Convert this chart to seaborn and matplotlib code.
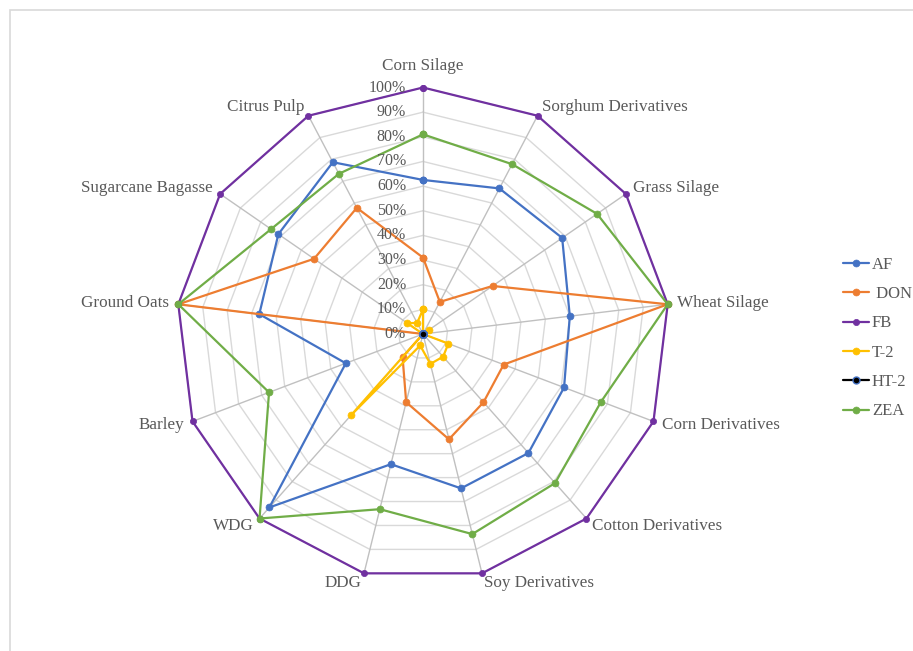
import numpy as np
import pandas as pd
import matplotlib
matplotlib.use("Agg")
import matplotlib.pyplot as plt
from matplotlib.lines import Line2D
from matplotlib.patches import Rectangle
import seaborn as sns

categories = ["Corn Silage", "Sorghum Derivatives", "Grass Silage", "Wheat Silage",
              "Corn Derivatives", "Cotton Derivatives", "Soy Derivatives", "DDG", "WDG",
              "Barley", "Ground Oats", "Sugarcane Bagasse", "Citrus Pulp"]

af = [62.5, 66.7, 68.6, 60, 61.2, 64.5, 64.5, 54.4, 94, 33.5, 66.9, 71.3, 78.7]
don = [31, 14.7, 34.3, 100, 35, 37, 44, 28.5, 12.5, 0, 100, 53.7, 57.8]
fb = [100] * 13
t2 = [10, 0, 3, 0, 11, 12.3, 12.5, 4.8, 44, 0, 0, 7.7, 5.1]
ht2 = [0] * 13
zea = [81, 77.8, 85.8, 100, 77.3, 80.8, 83.6, 73.2, 100, 66.8, 100, 74.9, 73.4]

series_names = ["AF", "DON", "FB", "T-2", "HT-2", "ZEA"]
legend_labels = ["AF", " DON", "FB", "T-2", "HT-2", "ZEA"]
series_values = [af, don, fb, t2, ht2, zea]
ticks = list(range(0, 101, 10))

colors = {"AF": "#4472C4", "DON": "#ED7D31", "FB": "#7030A0",
          "T-2": "#FFC000", "HT-2": "#000000", "ZEA": "#70AD47"}

sns.set_theme(style="white")
plt.rcParams["font.family"] = ["Liberation Serif", "DejaVu Serif"]
text_color = "#595959"

W, H = 913, 651
fig = plt.figure(figsize=(W / 100, H / 100), dpi=100)
fig.patch.set_facecolor("white")

cx, cy, R = 423, 334, 246.5
ax = fig.add_axes([(cx - R) / W, (H - cy - R) / H, 2 * R / W, 2 * R / H], projection="polar")
ax.set_theta_zero_location("N")
ax.set_theta_direction(-1)
ax.set_ylim(0, 100)
ax.grid(False)
ax.set_xticks([])
ax.set_yticks([])
ax.spines["polar"].set_visible(False)
ax.set_facecolor("none")

n = len(categories)
angles = np.arange(n) * 2 * np.pi / n
angles_closed = np.append(angles, 2 * np.pi)

# polygon gridlines and spokes
for t in ticks[1:]:
    ax.plot(angles_closed, [t] * (n + 1), color="#d9d9d9", lw=1, zorder=1)
for a in angles:
    ax.plot([a, a], [0, 100], color="#c0c0c0", lw=1, zorder=1)

rows = []
for name, vals in zip(series_names, series_values):
    for i, th in enumerate(angles_closed):
        rows.append({"series": name, "theta": th, "value": vals[i % n], "order": i})
df = pd.DataFrame(rows)

handles = []
for name, lab in zip(series_names, legend_labels):
    sub = df[df["series"] == name]
    c = colors[name]
    ms = 5 if name != "FB" else 4.5
    mec = "#4472C4" if name == "HT-2" else c
    sns.lineplot(data=sub, x="theta", y="value", sort=False, estimator=None, ax=ax,
                 color=c, lw=1.6, marker="o", markersize=ms, markeredgecolor=mec,
                 markerfacecolor=c, markeredgewidth=1 if name == "HT-2" else 0.5,
                 legend=False, zorder=3)
    handles.append(Line2D([0], [0], color=c, lw=1.6, marker="o", markersize=ms,
                          markerfacecolor=c, markeredgecolor=mec,
                          markeredgewidth=1 if name == "HT-2" else 0.5, label=lab))
for ln in ax.lines:
    ln.set_clip_on(False)
ax.set_xlabel("")
ax.set_ylabel("")

# radial tick labels
for t in ticks:
    ax.annotate(f"{t}%", xy=(0, t), xytext=(-17, 0), textcoords="offset pixels",
                ha="right", va="center", fontsize=11.5, color=text_color, zorder=4)

# category labels
for a, lab in zip(angles, categories):
    s, c = np.sin(a), np.cos(a)
    if abs(s) < 0.05:
        ax.annotate(lab, xy=(a, 100), xytext=(0, 14), textcoords="offset pixels",
                    ha="center", va="bottom", fontsize=12.3, color=text_color)
    else:
        ha = "left" if s > 0 else "right"
        ax.annotate(lab, xy=(a, 100), xytext=(9 * s, 10 * c), textcoords="offset pixels",
                    ha=ha, va="center", fontsize=12.3, color=text_color)

leg = fig.legend(handles=handles, loc="upper left",
                 bbox_to_anchor=(836 / W, 1 - 250 / H), frameon=False,
                 fontsize=12, handlelength=1.6, handletextpad=0.15,
                 labelspacing=0.8, borderaxespad=0)
for txt in leg.get_texts():
    txt.set_color(text_color)

fig.patches.append(Rectangle((10 / W, -0.5), 1.5, 1.5 - 10 / H, transform=fig.transFigure,
                             fill=False, edgecolor="#d9d9d9", lw=1.2))

fig.savefig("out.png", dpi=100, facecolor="white")
